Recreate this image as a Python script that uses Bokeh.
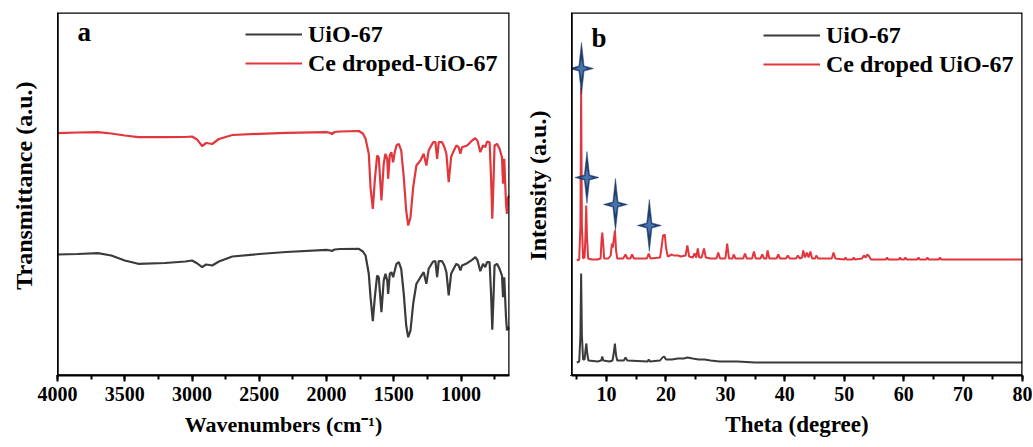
from bokeh.plotting import figure
from bokeh.layouts import row
from bokeh.models import (Range1d, SingleIntervalTicker, FixedTicker, Legend,
                          LegendItem, Label, BoxAnnotation)
from bokeh.embed import file_html
from bokeh.resources import INLINE

# ---------------- data: FTIR (panel a) ----------------
ftir_wn_ce = [4000, 3850, 3700, 3600, 3500, 3400, 3200, 3050, 3000, 2960, 2925, 2895, 2870, 2850,
              2800, 2700, 2500, 2300, 2000, 1970, 1960, 1940, 1900, 1760, 1730, 1710, 1686, 1673,
              1656, 1641, 1624, 1612, 1592, 1575, 1562, 1549, 1542, 1530, 1518, 1505, 1493, 1480,
              1463, 1445, 1426, 1408, 1393, 1376, 1356, 1332, 1302, 1278, 1258, 1241, 1208, 1191,
              1178, 1166, 1141, 1124, 1109, 1092, 1074, 1059, 1035, 1018, 1005, 993, 955, 918,
              894, 877, 857, 837, 820, 807, 788, 777, 768, 758, 751, 733, 714, 696, 688, 679,
              666, 659, 651, 640]
ftir_t_ce = [242.3, 243, 243.3, 242, 240, 238.3, 238.3, 238.5, 239, 235.7, 229.5, 232.5, 232, 231.5,
             236.5, 240.5, 241.7, 242.7, 243.3, 242.5, 241.5, 243.5, 244, 244.5, 242, 236.7, 221.7, 188,
             166.7, 195.7, 220, 218.3, 175, 211.7, 221.7, 216.7, 196.7, 220, 223.3, 213.3, 223.3, 230,
             231.7, 225, 198.3, 165, 150, 158.3, 188.3, 210, 215, 221.7, 210, 225, 233.3, 233.3,
             216.7, 233.3, 233.3, 228.3, 221.7, 193.3, 218.3, 223.3, 230, 228.3, 221.7, 228.3, 230, 235,
             237.3, 234.3, 223.3, 230, 228.3, 234, 233.3, 198, 156.7, 198, 230, 231.7, 226.7, 218.3, 191.7, 216.7,
             171.7, 161.7, 178, 180]

ftir_wn_uio = ftir_wn_ce
ftir_t_uio = [121, 121.5, 122.3, 120, 115, 111.7, 112.5, 114, 115, 112, 108.3, 111, 110.5, 110,
              114, 119, 121.5, 123.5, 125.7, 125, 124.5, 126, 126.5, 126.7, 124, 120, 101.7, 78.3,
              54.3, 78.3, 100, 98.3, 63.3, 95, 101.7, 95, 81.7, 101.7, 103.3, 98.3, 105, 111.7,
              113.3, 106.7, 81.7, 50, 38.3, 45, 71.7, 91.7, 98.3, 103.3, 91.7, 106.7, 114, 114.3,
              98.3, 114.3, 114.3, 110, 103.3, 80, 101.7, 105.7, 111.7, 110, 105, 110, 112.3, 115.7,
              118.3, 115, 104.3, 111.7, 108.3, 113.3, 113.3, 81.7, 45.7, 81.7, 110, 111.7, 106.7, 100, 78.3, 98.3,
              58.3, 45, 48.3, 46]

# ---------------- data: XRD (panel b) ----------------
xrd_theta_ce = [5.0, 5.4, 5.6, 5.72, 5.85, 6.05, 6.3, 6.45, 6.58, 6.7, 6.9, 7.5, 8.5, 9.0, 9.15, 9.28,
                9.4, 9.6, 10.3, 10.7, 10.9, 11.05, 11.2, 11.42, 11.6, 11.8, 12.8, 13.2, 13.5, 14.0,
                14.3, 14.6, 16.8, 17.1, 17.4, 19.0, 19.3, 19.5, 19.8, 20.0, 20.3, 21.0, 21.3, 22.0,
                22.5, 23.3, 23.6, 23.9, 24.5, 24.8, 25.1, 25.35, 25.6, 26.0, 26.4, 26.7, 27.5, 28.5,
                28.8, 29.1, 30.0, 30.3, 30.6, 31.2, 31.4, 31.7, 33.0, 33.3, 33.6, 34.5, 34.8, 35.1,
                35.9, 36.2, 36.5, 36.9, 37.1, 37.4, 38.6, 38.9, 39.2, 40.2, 40.5, 40.8, 41.9, 42.2,
                42.5, 42.9, 43.1, 43.4, 43.7, 44.0, 44.3, 44.6, 45.1, 45.3, 45.6, 47.9, 48.2, 48.5,
                50.0, 50.2, 50.4, 51.4, 51.6, 51.8, 53.0, 53.3, 53.6, 53.9, 54.2, 54.5, 57.0, 57.2,
                57.4, 59.2, 59.4, 59.6, 60.1, 60.3, 60.5, 62.3, 62.5, 62.7, 63.8, 64.0, 64.2, 65.9,
                66.1, 66.3, 80.0]
xrd_i_ce = [115, 116, 150, 288, 150, 117, 118, 140, 170, 140, 117, 116, 116, 117, 135, 143,
            135, 117, 117, 120, 132, 128, 135, 145, 125, 117, 117, 121, 117, 117,
            121, 117, 117, 122, 117, 118, 130, 140, 141, 128, 119, 121, 120, 120,
            119, 120, 130, 119, 118, 122, 118, 127, 118, 118, 127, 118, 117, 117,
            123, 117, 117, 132, 117, 117, 121, 117, 117, 122, 117, 117, 124, 117,
            117, 121, 117, 117, 125, 117, 117, 121, 117, 117, 120, 117, 117, 120,
            117, 118, 125, 118, 123, 118, 124, 117, 117, 120, 117, 117, 123, 117,
            116, 118, 116, 116, 118, 116, 117, 120, 118, 121, 119, 116, 116, 118,
            116, 116, 118, 116, 116, 118, 116, 116, 118, 116, 116, 118, 116, 116,
            118, 116, 116]

xrd_theta_uio = [5.0, 5.4, 5.6, 5.72, 5.85, 6.05, 6.3, 6.45, 6.6, 6.75, 6.95, 8.5, 9.1, 9.28, 9.45,
                 10.5, 11.0, 11.2, 11.4, 11.6, 11.8, 12.9, 13.2, 13.5, 16.9, 17.1, 17.3, 19.0, 19.4,
                 19.7, 20.0, 21.0, 22.0, 23.0, 23.6, 24.5, 25.5, 26.5, 27.5, 29.0, 32.0, 35.0, 40.0,
                 50.0, 60.0, 70.0, 80.0]
xrd_i_uio = [13, 14, 40, 102, 40, 16, 16, 25, 32, 22, 15, 14, 15, 19, 15,
             14, 15, 22, 32, 20, 15, 15, 18, 15, 14, 16, 14, 15, 18,
             19, 16, 16, 17, 17, 18, 17, 16, 16, 15, 14, 14, 13, 13,
             13, 13, 13, 13]

star_theta = [5.78, 6.7, 11.5, 17.2]
star_i = [307, 198, 171, 150]

# ---------------- styling ----------------
FONT = "Liberation Serif"
RED = "#e2363d"
DARK = "#3b3b3b"
Y_MAX = 363

TOP, BOTTOM = 12, 72
FH = 363          # frame height (px)
FW1, FW2 = 452, 451
L1, R1 = 57, 11
L2, R2 = 51, 10


def style(p, xlabel, ylabel, xlabel_size):
    # frame box drawn as an annotation spanning the whole plot area
    p.outline_line_color = None
    p.add_layout(BoxAnnotation(fill_alpha=0, fill_color=None, line_color="black",
                               line_width=2.5, line_alpha=1))
    p.xgrid.visible = False
    p.ygrid.visible = False
    p.xaxis.axis_line_width = 2
    p.xaxis.axis_label = xlabel
    p.xaxis.axis_label_text_font = FONT
    p.xaxis.axis_label_text_font_style = "bold"
    p.xaxis.axis_label_text_font_size = xlabel_size
    p.xaxis.axis_label_text_color = "black"
    p.xaxis.major_label_text_font = FONT
    p.xaxis.major_label_text_font_style = "bold"
    p.xaxis.major_label_text_font_size = "20px"
    p.xaxis.major_label_text_color = "black"
    p.xaxis.major_tick_in = 0
    p.xaxis.minor_tick_in = 0
    p.xaxis.major_tick_out = 6
    p.xaxis.minor_tick_out = 4
    p.xaxis.major_tick_line_width = 2
    p.xaxis.minor_tick_line_width = 2
    p.xaxis.major_label_standoff = 5
    p.xaxis.axis_label_standoff = 8
    # y axis: title only; a single tick hidden under the frame corner
    p.yaxis.axis_label = ylabel
    p.yaxis.axis_label_text_font = FONT
    p.yaxis.axis_label_text_font_style = "bold"
    p.yaxis.axis_label_text_font_size = "24px"
    p.yaxis.axis_label_text_color = "black"
    p.yaxis.axis_label_standoff = 20
    p.yaxis.ticker = FixedTicker(ticks=[0], minor_ticks=[0])
    p.yaxis.major_label_overrides = {0: ""}
    p.yaxis.major_tick_in = 0
    p.yaxis.major_tick_out = 1
    p.yaxis.minor_tick_in = 0
    p.yaxis.minor_tick_out = 1
    p.yaxis.major_label_standoff = 0


def legend(p, items, x, y):
    lg = Legend(items=items, location=(x, y))
    lg.border_line_color = None
    lg.background_fill_alpha = 0
    lg.label_text_font = FONT
    lg.label_text_font_style = "bold"
    lg.label_text_font_size = "24px"
    lg.label_text_color = "black"
    lg.glyph_width = 57
    lg.glyph_height = 28
    lg.label_height = 28
    lg.label_standoff = 6
    lg.spacing = 1
    lg.padding = 0
    lg.margin = 0
    p.add_layout(lg)


# ---------------- panel a ----------------
p1 = figure(width=L1 + FW1 + R1, height=TOP + FH + BOTTOM, output_backend="svg",
            toolbar_location=None, x_range=Range1d(4000, 640), y_range=Range1d(0, Y_MAX),
            min_border_left=L1, min_border_right=R1, min_border_top=TOP, min_border_bottom=BOTTOM)
p1.xaxis.ticker = SingleIntervalTicker(interval=500, num_minor_ticks=2)
style(p1, "Wavenumbers (cm\u207b\u00b9)", "\u2002\u2009Transmittance (a.u.)", "22px")
r1b = p1.line(ftir_wn_uio, ftir_t_uio, line_color=DARK, line_width=2.2)
r1r = p1.line(ftir_wn_ce, ftir_t_ce, line_color=RED, line_width=2.2)
legend(p1, [LegendItem(label="UiO-67", renderers=[r1b]),
            LegendItem(label="Ce droped-UiO-67", renderers=[r1r])], 188, 298)
p1.add_layout(Label(x=20, y=329, x_units="screen", y_units="screen", text="a",
                    text_font=FONT, text_font_style="bold", text_font_size="27px",
                    text_color="black"))

# ---------------- panel b ----------------
X0, X1 = 4.1, 80
p2 = figure(width=L2 + FW2 + R2, height=TOP + FH + BOTTOM, output_backend="svg",
            toolbar_location=None, x_range=Range1d(X0, X1), y_range=Range1d(0, Y_MAX),
            min_border_left=L2, min_border_right=R2, min_border_top=TOP, min_border_bottom=BOTTOM)
p2.xaxis.ticker = SingleIntervalTicker(interval=10, num_minor_ticks=2)
style(p2, "Theta (degree)", "\u2002\u2009Intensity (a.u.)", "23px")
r2b = p2.line(xrd_theta_uio, xrd_i_uio, line_color=DARK, line_width=2)
r2r = p2.line(xrd_theta_ce, xrd_i_ce, line_color=RED, line_width=2)

# four-pointed star markers built around each star centre (sizes in px)
dxp = (X1 - X0) / FW2
dyp = Y_MAX / FH


def star_shape(cx, cy, w, h, r):
    xs = [cx, cx + r * dxp, cx + w * dxp, cx + r * dxp, cx, cx - r * dxp, cx - w * dxp, cx - r * dxp]
    ys = [cy + h * dyp, cy + r * dyp, cy, cy - r * dyp, cy - h * dyp, cy - r * dyp, cy, cy + r * dyp]
    return xs, ys


outer = [star_shape(x, y, 12, 26, 2.6) for x, y in zip(star_theta, star_i)]
inner = [star_shape(x, y, 6, 10, 1.8) for x, y in zip(star_theta, star_i)]
p2.patches([s[0] for s in outer], [s[1] for s in outer], fill_color="#213f6d",
           line_color="#213f6d", line_width=0.5)
p2.patches([s[0] for s in inner], [s[1] for s in inner], fill_color="#4a78b4",
           line_color=None, fill_alpha=0.9)

legend(p2, [LegendItem(label="UiO-67", renderers=[r2b]),
            LegendItem(label="Ce droped UiO-67", renderers=[r2r])], 192, 297)
p2.add_layout(Label(x=20, y=323, x_units="screen", y_units="screen", text="b",
                    text_font=FONT, text_font_style="bold", text_font_size="27px",
                    text_color="black"))

layout = row(p1, p2)
open("out.html", "w").write(file_html(layout, INLINE))
